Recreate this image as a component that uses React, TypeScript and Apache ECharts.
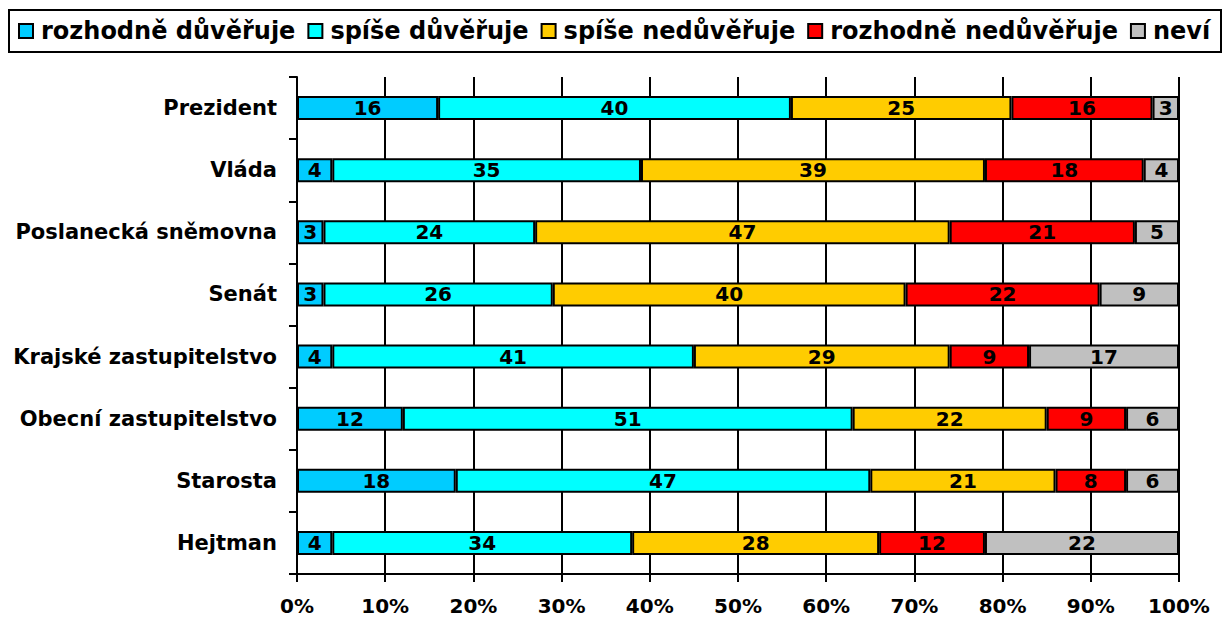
import React, { useEffect, useRef } from "react";
import * as echarts from "echarts";

const categories = [
  "Prezident",
  "Vláda",
  "Poslanecká sněmovna",
  "Senát",
  "Krajské zastupitelstvo",
  "Obecní zastupitelstvo",
  "Starosta",
  "Hejtman",
];
const seriesNames = [
  "rozhodně důvěřuje",
  "spíše důvěřuje",
  "spíše nedůvěřuje",
  "rozhodně nedůvěřuje",
  "neví",
];
const rozhodneDuveruje = [16, 4, 3, 3, 4, 12, 18, 4];
const spiseDuveruje = [40, 35, 24, 26, 41, 51, 47, 34];
const spiseNeduveruje = [25, 39, 47, 40, 29, 22, 21, 28];
const rozhodneNeduveruje = [16, 18, 21, 22, 9, 9, 8, 12];
const nevi = [3, 4, 5, 9, 17, 6, 6, 22];
const colors = ["#00CCFF", "#00FFFF", "#FFCC00", "#FF0000", "#C0C0C0"];

const FONT = "DejaVu Sans";

export default function App() {
  const ref = useRef<HTMLDivElement>(null);
  useEffect(() => {
    if (!ref.current) return;
    const chart = echarts.init(ref.current, null, { renderer: "svg" });
    const allData = [rozhodneDuveruje, spiseDuveruje, spiseNeduveruje, rozhodneNeduveruje, nevi];
    chart.setOption({
      animation: false,
      textStyle: { fontFamily: FONT },
      graphic: [
        {
          type: "rect",
          shape: { x: 9, y: 10, width: 1212, height: 42 },
          style: { fill: "#fff", stroke: "#000", lineWidth: 2 },
          z: -1,
        },
      ],
      legend: {
        top: 14,
        left: 13,
        itemWidth: 14,
        itemHeight: 14,
        itemGap: 12,
        icon: "rect",
        textStyle: { fontFamily: FONT, fontWeight: "bold", fontSize: 24, color: "#000", padding: [0, 0, 0, 3] },
        data: seriesNames,
      },
      grid: { left: 297, right: 46, top: 77, bottom: 43 },
      xAxis: {
        type: "value",
        min: 0,
        max: 100,
        interval: 10,
        axisLine: { show: true, lineStyle: { color: "#000", width: 2 } },
        axisTick: { show: true, length: 8, lineStyle: { color: "#000", width: 2 } },
        splitLine: { show: true, lineStyle: { color: "#000", width: 2 } },
        axisLabel: {
          formatter: "{value}%",
          fontFamily: FONT,
          fontWeight: "bold",
          fontSize: 20,
          color: "#000",
          margin: 22,
        },
      },
      yAxis: {
        type: "category",
        inverse: true,
        data: categories,
        axisLine: { show: true, lineStyle: { color: "#000", width: 2 } },
        axisTick: { show: true, length: 8, lineStyle: { color: "#000", width: 2 } },
        axisLabel: {
          fontFamily: FONT,
          fontWeight: "bold",
          fontSize: 21,
          color: "#000",
          margin: 20,
        },
      },
      series: seriesNames.map((name, i) => ({
        name,
        type: "bar",
        stack: "total",
        barWidth: 24,
        data: allData[i],
        itemStyle: { color: colors[i], borderColor: "#000", borderWidth: 2 },
        label: {
          show: true,
          position: "inside",
          fontFamily: FONT,
          fontWeight: "bold",
          fontSize: 20,
          color: "#000",
        },
      })),
    });
    return () => chart.dispose();
  }, []);
  return (
    <div
      ref={ref}
      style={{ position: "absolute", left: 0, top: 0, width: 1225, height: 617 }}
    />
  );
}
